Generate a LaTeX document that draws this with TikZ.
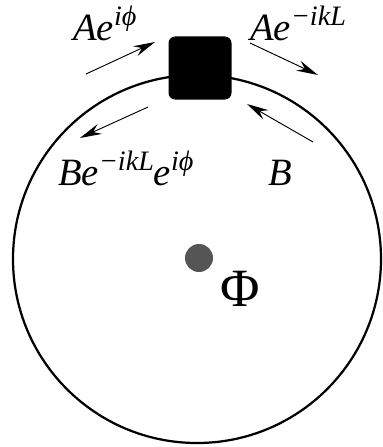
\documentclass[tikz,border=0pt]{standalone}
\usepackage{fontspec}
\setmainfont{Liberation Serif}
\usepackage{tikz}
\usetikzlibrary{arrows.meta}
\definecolor{dotgray}{RGB}{85,85,85}
\newcommand{\sups}[1]{\raisebox{0.38em}{\fontsize{24}{24}\selectfont\itshape #1}}

\begin{document}
\begin{tikzpicture}[
    x=0.03cm, y=-0.03cm,
    ring/.style={
        circle,
        draw=black,
        line width=1.9pt,
        minimum size=11.04cm,
        inner sep=0pt
    },
    scatterer/.style={
        rectangle,
        rounded corners=0.2cm,
        fill=black,
        minimum size=1.89cm,
        inner sep=0pt
    },
    flux/.style={
        circle,
        fill=dotgray,
        minimum size=0.84cm,
        inner sep=0pt
    },
    lbl/.style={
        anchor=base west,
        inner sep=0pt,
        font=\fontsize{33}{33}\selectfont\itshape
    },
    flow/.style={-{Stealth[length=6.5mm, width=3.2mm, inset=2.2mm]}, line width=0.8pt}
]
\useasboundingbox (0,0) rectangle (382,447);

\node[ring] (loop) at (197,259) {};
\node[scatterer] (box) at (200,68) {};
\node[flux] (dot) at (199,258) {};
\node[font=\fontsize{46}{46}\selectfont] (phi) at (240,289) {Φ};

\node[lbl] (inA) at (73,40) {Ae\sups{iϕ}};
\node[lbl] (outA) at (250,40) {Ae\sups{−ikL}};
\node[lbl] (outB) at (58,185) {Be\sups{−ikL}e\sups{iϕ}};
\node[lbl] (inB) at (268,185) {B};

% arrows around the scatterer
\coordinate (a1) at (86,74);   \coordinate (a2) at (155,42);
\coordinate (b1) at (250,43);  \coordinate (b2) at (318,75);
\coordinate (c1) at (148,107); \coordinate (c2) at (80,138);
\coordinate (d1) at (313,142); \coordinate (d2) at (247,104);

\draw[flow] (a1) -- (a2);
\draw[flow] (b1) -- (b2);
\draw[flow] (c1) -- (c2);
\draw[flow] (d1) -- (d2);

\end{tikzpicture}
\end{document}
